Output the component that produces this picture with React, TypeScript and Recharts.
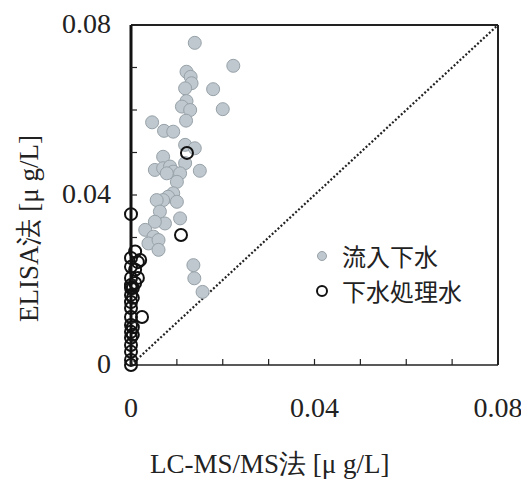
import React from 'react';
import { ScatterChart, Scatter, XAxis, YAxis, ReferenceLine } from 'recharts';

// 流入下水 (influent)
const influentX = [
  0.0139, 0.0223, 0.0121, 0.013, 0.0132, 0.0118, 0.0179, 0.0121, 0.0111, 0.0129,
  0.02, 0.012, 0.0046, 0.0072, 0.0092, 0.0118, 0.0139, 0.007, 0.0118, 0.015,
  0.0052, 0.007, 0.0085, 0.0092, 0.0107, 0.0078, 0.01, 0.0092, 0.0081, 0.007,
  0.0056, 0.01, 0.0063, 0.0107, 0.0074, 0.0052, 0.0031, 0.0049, 0.0038, 0.006,
  0.006, 0.0136, 0.0138, 0.0156,
];
const influentY = [
  0.0758, 0.0704, 0.069, 0.0678, 0.0663, 0.0651, 0.0649, 0.0621, 0.0608, 0.06,
  0.0602, 0.0575, 0.0571, 0.0551, 0.0549, 0.0518, 0.051, 0.049, 0.0475, 0.0457,
  0.0459, 0.0463, 0.0467, 0.0455, 0.0451, 0.0451, 0.0431, 0.0404, 0.0396, 0.0388,
  0.0388, 0.0384, 0.0361, 0.0345, 0.0333, 0.0337, 0.0318, 0.0302, 0.0286, 0.0294,
  0.0271, 0.0235, 0.0204, 0.0172,
];

// 下水処理水 (treated effluent)
const effluentX = [
  0, 0.0009, 0.002, 0, 0.0015, 0, 0.0009, 0, 0.0015, 0,
  0.0009, 0, 0.0004, 0, 0, 0.0004, 0.0024, 0, 0, 0,
  0, 0, 0, 0, 0, 0, 0.0004, 0.0004, 0.0122, 0.0109,
];
const effluentY = [
  0.0355, 0.0267, 0.0247, 0.0252, 0.0242, 0.0231, 0.0224, 0.0205, 0.0205, 0.0188,
  0.0193, 0.0181, 0.0181, 0.0165, 0.0148, 0.0158, 0.0113, 0.0134, 0.0113, 0.0094,
  0.0078, 0.0064, 0.0047, 0.0031, 0.0012, 0, 0.0089, 0.0071, 0.0499, 0.0306,
];

const tickValues = [0, 0.01, 0.02, 0.03, 0.04, 0.05, 0.06, 0.07, 0.08];
const labeledTicks = ['0', '0.04', '0.08'];

const xTitle = 'LC-MS/MS法 [μ g/L]';
const yTitle = 'ELISA法 [μ g/L]';
const legendNames = ['流入下水', '下水処理水'];

const influent = influentX.map((x, i) => ({ x, y: influentY[i] }));
const effluent = effluentX.map((x, i) => ({ x, y: effluentY[i] }));

const serif = 'Liberation Serif, Times New Roman, DejaVu Serif, serif';
const fmt = (v: number) => (v === 0 ? '0' : v.toFixed(2));

const XTick = (props: any) => {
  const { x, y, payload } = props;
  const label = fmt(payload.value);
  return (
    <g>
      <line x1={x} y1={y} x2={x} y2={y - 6} stroke="#222" strokeWidth={1.2} />
      {labeledTicks.includes(label) && (
        <text x={x} y={y + 52} textAnchor="middle" fill="#222" style={{ fontFamily: serif, fontSize: 28 }}>
          {label}
        </text>
      )}
    </g>
  );
};

const YTick = (props: any) => {
  const { x, y, payload } = props;
  const label = fmt(payload.value);
  return (
    <g>
      <line x1={x} y1={y} x2={x + 6} y2={y} stroke="#222" strokeWidth={1.2} />
      {labeledTicks.includes(label) && (
        <text x={x - 20} y={y + 8} textAnchor="end" fill="#222" style={{ fontFamily: serif, fontSize: 28 }}>
          {label}
        </text>
      )}
    </g>
  );
};

const XTitle = () => (
  <text x={150} y={473} fill="#222" style={{ fontFamily: serif, fontSize: 27 }}>
    {xTitle}
  </text>
);

const YTitle = () => (
  <text x={38} y={322} transform="rotate(-90 38 322)" fill="#222" style={{ fontFamily: serif, fontSize: 27 }}>
    {yTitle}
  </text>
);

const App: React.FC = () => {
  return (
    <div style={{ position: 'absolute', left: 0, top: 0, width: 521, height: 483, background: '#fff' }}>
      <ScatterChart width={521} height={483} margin={{ top: 25, right: 23, left: 0, bottom: 0 }}>
        <XAxis
          type="number"
          dataKey="x"
          domain={[0, 0.08]}
          ticks={tickValues}
          tickSize={0}
          tickMargin={0}
          tick={<XTick />}
          height={118}
          axisLine={{ stroke: '#222', strokeWidth: 1.5 }}
          label={<XTitle />}
        />
        <YAxis
          type="number"
          dataKey="y"
          domain={[0, 0.08]}
          ticks={tickValues}
          tickSize={0}
          tickMargin={0}
          tick={<YTick />}
          width={131}
          axisLine={{ stroke: '#111', strokeWidth: 3 }}
          label={<YTitle />}
        />
        <ReferenceLine y={0.08} stroke="#222" strokeWidth={2} />
        <ReferenceLine x={0.08} stroke="#222" strokeWidth={2} />
        <ReferenceLine
          segment={[{ x: 0, y: 0 }, { x: 0.08, y: 0.08 }]}
          stroke="#222"
          strokeWidth={2.2}
          strokeDasharray="2 2"
        />
        <Scatter
          data={influent}
          fill="#bfc8ce"
          shape={(p: any) => <circle cx={p.cx} cy={p.cy} r={6.5} fill="#bfc8ce" stroke="#96a1a8" strokeWidth={1} />}
          isAnimationActive={false}
        />
        <Scatter
          data={effluent}
          shape={(p: any) => <circle cx={p.cx} cy={p.cy} r={6} fill="none" stroke="#111" strokeWidth={2} />}
          isAnimationActive={false}
        />
      </ScatterChart>
      <div
        style={{
          position: 'absolute',
          left: 312,
          top: 238,
          fontFamily: '"Noto Sans CJK JP", sans-serif',
          fontSize: 24,
          color: '#222',
          lineHeight: '35px',
        }}
      >
        {legendNames.map((name, i) => (
          <div key={name} style={{ display: 'flex', alignItems: 'center', height: 35 }}>
            <svg width={30} height={35}>
              {i === 0 ? (
                <circle cx={10} cy={18} r={4.5} fill="#bfc8ce" stroke="#96a1a8" strokeWidth={1} />
              ) : (
                <circle cx={10} cy={18} r={5} fill="none" stroke="#111" strokeWidth={2} />
              )}
            </svg>
            <span>{name}</span>
          </div>
        ))}
      </div>
    </div>
  );
};

export default App;
